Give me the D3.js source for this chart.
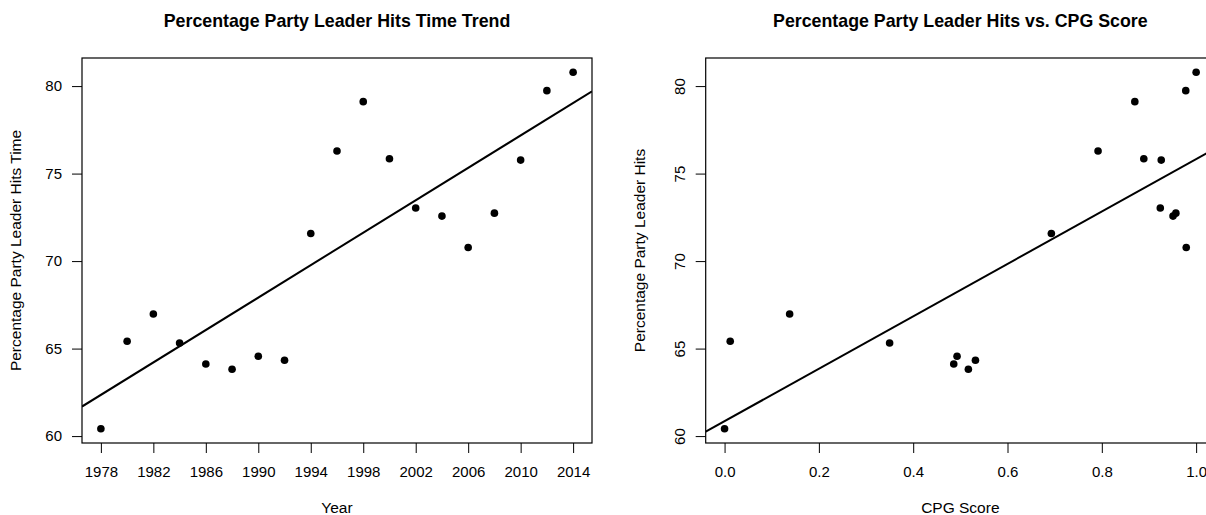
<!DOCTYPE html>
<html>
<head>
<meta charset="utf-8">
<script src="https://cdn.jsdelivr.net/npm/d3@7"></script>
<style>
  html, body { margin: 0; padding: 0; background: #fff; }
  svg { display: block; font-family: "Liberation Sans", Arial, Helvetica, sans-serif; }
</style>
</head>
<body>
<svg id="chart" width="1206" height="515"></svg>
<script>
// Election years
const years = [1978, 1980, 1982, 1984, 1986, 1988, 1990, 1992, 1994, 1996,
               1998, 2000, 2002, 2004, 2006, 2008, 2010, 2012, 2014];
// Percentage of party leader hits per election
const leaderHits = [60.42, 65.42, 66.98, 65.32, 64.12, 63.82, 64.56, 64.33, 71.58, 76.29,
                    79.11, 75.85, 73.03, 72.57, 70.78, 72.74, 75.77, 79.74, 80.79];
// CPG score per election
const cpgScores = [0.000, 0.012, 0.138, 0.350, 0.486, 0.517, 0.493, 0.532, 0.693, 0.792,
                   0.870, 0.889, 0.924, 0.951, 0.979, 0.957, 0.926, 0.978, 1.000];

// Tick labels
const yearTicks = [1978, 1982, 1986, 1990, 1994, 1998, 2002, 2006, 2010, 2014];
const hitsTicks = [60, 65, 70, 75, 80];
const cpgTicks = [0.0, 0.2, 0.4, 0.6, 0.8, 1.0];

const svg = d3.select("#chart");
const TICK_FS = 15;
const LAB_FS = 15.5;
const TITLE_FS = 17.8;

// Axis range padded by 4% on each side
function paddedDomain(values) {
  const [lo, hi] = d3.extent(values);
  const pad = (hi - lo) * 0.04;
  return [lo - pad, hi + pad];
}

// Ordinary least squares fit
function lsFit(xs, ys) {
  const mx = d3.mean(xs), my = d3.mean(ys);
  let sxy = 0, sxx = 0;
  xs.forEach((x, i) => { sxy += (x - mx) * (ys[i] - my); sxx += (x - mx) * (x - mx); });
  const b = sxy / sxx;
  return { a: my - b * mx, b };
}

function panel(opts) {
  const { id, left, right, top, bottom, xs, ys, xTicks, xFormat, title, xTitle, yTitle, yLabelsRotated, yTitleX } = opts;
  const g = svg.append("g");

  const x = d3.scaleLinear().domain(paddedDomain(xs)).range([left, right]);
  const y = d3.scaleLinear().domain(paddedDomain(ys)).range([bottom, top]);

  const clipId = "clip-" + id;
  g.append("clipPath").attr("id", clipId)
    .append("rect").attr("x", left).attr("y", top)
    .attr("width", right - left).attr("height", bottom - top);

  // Fitted line
  const fit = lsFit(xs, ys);
  const [x0, x1] = x.domain();
  g.append("line")
    .attr("clip-path", `url(#${clipId})`)
    .attr("x1", x(x0)).attr("y1", y(fit.a + fit.b * x0))
    .attr("x2", x(x1)).attr("y2", y(fit.a + fit.b * x1))
    .attr("stroke", "#000").attr("stroke-width", 2);

  // Points
  g.append("g").selectAll("circle")
    .data(xs.map((v, i) => [v, ys[i]]))
    .join("circle")
    .attr("cx", d => x(d[0])).attr("cy", d => y(d[1]))
    .attr("r", 3.8).attr("fill", "#000");

  // Box
  g.append("rect")
    .attr("x", left).attr("y", top)
    .attr("width", right - left).attr("height", bottom - top)
    .attr("fill", "none").attr("stroke", "#000").attr("stroke-width", 1.2);

  // X axis
  const xa = g.append("g").attr("transform", `translate(0,${bottom})`)
    .call(d3.axisBottom(x).tickValues(xTicks).tickFormat(xFormat).tickSize(10).tickPadding(13).tickSizeOuter(0));
  xa.select(".domain").remove();
  xa.selectAll("text").attr("font-size", TICK_FS).attr("font-family", null).attr("fill", "#000");
  xa.selectAll("line").attr("stroke", "#000");

  // Y axis
  const ya = g.append("g").attr("transform", `translate(${left},0)`)
    .call(d3.axisLeft(y).tickValues(hitsTicks).tickSize(10).tickPadding(10).tickSizeOuter(0));
  ya.select(".domain").remove();
  ya.selectAll("line").attr("stroke", "#000");
  ya.selectAll("text").attr("font-size", TICK_FS).attr("font-family", null).attr("fill", "#000");
  if (yLabelsRotated) {
    ya.selectAll("text")
      .attr("x", null).attr("dy", null)
      .attr("text-anchor", "middle")
      .attr("transform", "translate(-21,0) rotate(-90)");
  }

  // Titles
  g.append("text")
    .attr("x", (left + right) / 2).attr("y", 26.5)
    .attr("text-anchor", "middle").attr("font-weight", "bold").attr("font-size", TITLE_FS)
    .text(title);
  g.append("text")
    .attr("x", (left + right) / 2).attr("y", 513)
    .attr("text-anchor", "middle").attr("font-size", LAB_FS)
    .text(xTitle);
  g.append("text")
    .attr("transform", `translate(${yTitleX},${(top + bottom) / 2}) rotate(-90)`)
    .attr("text-anchor", "middle").attr("font-size", LAB_FS)
    .text(yTitle);
}

panel({
  id: "trend", left: 82, right: 592, top: 58, bottom: 443,
  xs: years, ys: leaderHits, xTicks: yearTicks, xFormat: d3.format("d"),
  title: "Percentage Party Leader Hits Time Trend",
  xTitle: "Year", yTitle: "Percentage Party Leader Hits Time",
  yLabelsRotated: false, yTitleX: 21
});

panel({
  id: "cpg", left: 705.7, right: 1215, top: 58, bottom: 443,
  xs: cpgScores, ys: leaderHits, xTicks: cpgTicks, xFormat: d3.format(".1f"),
  title: "Percentage Party Leader Hits vs. CPG Score",
  xTitle: "CPG Score", yTitle: "Percentage Party Leader Hits",
  yLabelsRotated: true, yTitleX: 645
});
</script>
</body>
</html>
